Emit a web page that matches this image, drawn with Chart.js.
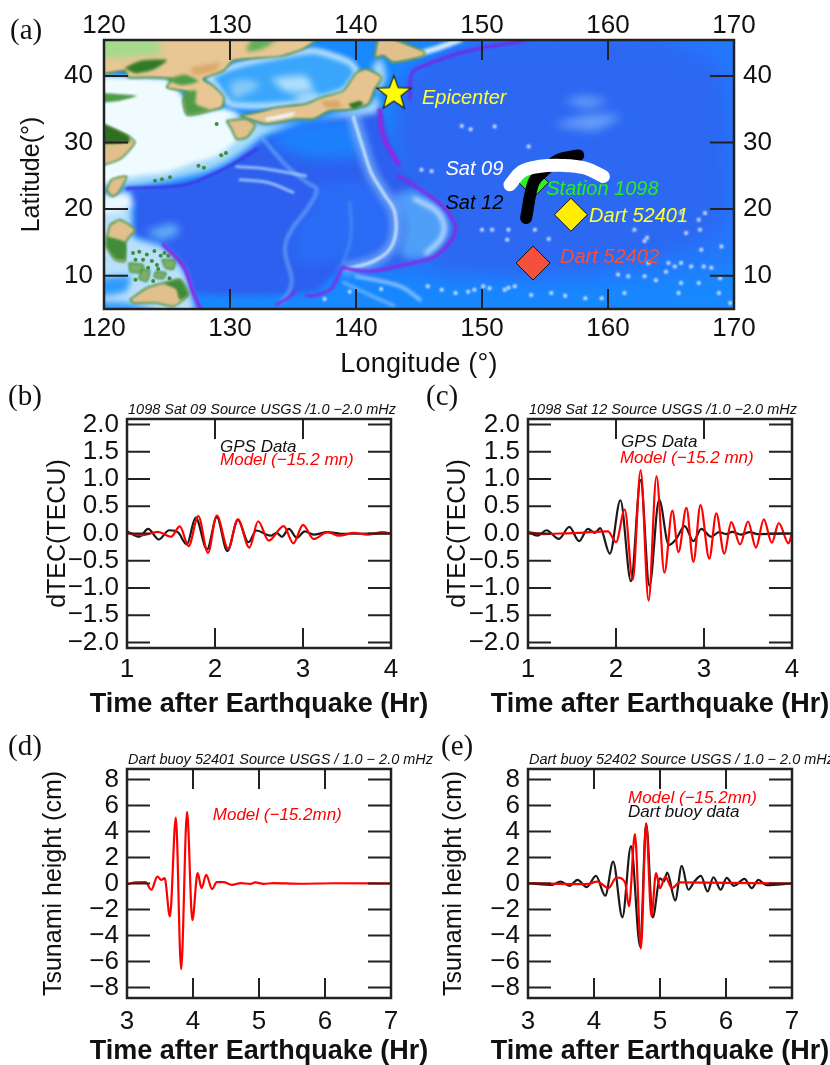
<!DOCTYPE html>
<html>
<head>
<meta charset="utf-8">
<title>dTEC and tsunami height</title>
<script src="https://cdn.jsdelivr.net/npm/chart.js@4/dist/chart.umd.min.js"></script>
<style>
    html, body { margin: 0; padding: 0; background: #fff; }
    #page { position: relative; width: 830px; height: 1065px; overflow: hidden; }
    canvas { position: absolute; filter: blur(0.45px); }
    .tag { position: absolute; font: 29px "Liberation Serif", serif; color: #111; line-height: 1; }
</style>
</head>
<body>
<div id="page">
    <canvas id="mapChart" width="830" height="390" style="left:0;top:0"></canvas>
    <canvas id="sat09Chart" width="400" height="320" style="left:30px;top:400px"></canvas>
    <canvas id="sat12Chart" width="400" height="320" style="left:430px;top:400px"></canvas>
    <canvas id="dart52401Chart" width="410" height="315" style="left:30px;top:750px"></canvas>
    <canvas id="dart52402Chart" width="400" height="315" style="left:430px;top:750px"></canvas>
    <div class="tag" style="left:10px;top:15px">(a)</div>
    <div class="tag" style="left:8px;top:381px">(b)</div>
    <div class="tag" style="left:426px;top:381px">(c)</div>
    <div class="tag" style="left:8px;top:731px">(d)</div>
    <div class="tag" style="left:441px;top:731px">(e)</div>
</div>
<script>
// ticks
const lonTicks = [120, 130, 140, 150, 160, 170];
const latTicks = [10, 20, 30, 40];
const hourTicksTec = [1, 2, 3, 4];
const hourTicksDart = [3, 4, 5, 6, 7];
const dtecTicks = [-2, -1.5, -1, -0.5, 0, 0.5, 1, 1.5, 2];
const heightTicks = [-8, -6, -4, -2, 0, 2, 4, 6, 8];

// panel (b)
const sat09GpsTimes = [1.0, 1.14, 1.24, 1.36, 1.48, 1.58, 1.68, 1.78, 1.91, 2.02, 2.14, 2.26, 2.38, 2.47, 2.63, 2.7, 2.76, 2.84, 2.93, 3.02, 3.12, 3.28, 3.43, 4.0];
const sat09GpsValues = [0.04, -0.06, 0.085, -0.11, 0.06, 0.02, -0.2, 0.29, -0.29, 0.3, -0.32, 0.25, -0.16, 0.055, -0.04, 0.01, -0.06, 0.085, -0.08, 0.04, -0.02, 0.025, -0.005, 0];
const sat09ModelTimes = [1.0, 1.18, 1.35, 1.5, 1.6, 1.7, 1.81, 1.92, 2.02, 2.15, 2.26, 2.39, 2.49, 2.61, 2.78, 2.89, 3.0, 3.12, 3.28, 3.41, 3.58, 3.73, 3.91, 4.0];
const sat09ModelValues = [0.01, -0.03, 0.03, -0.06, 0.13, -0.23, 0.32, -0.355, 0.33, -0.28, 0.26, -0.26, 0.225, -0.13, 0.135, -0.18, 0.16, -0.1, 0.025, -0.04, 0.01, -0.02, 0.025, -0.005];

// panel (c)
const sat12GpsTimes = [1.0, 1.11, 1.21, 1.35, 1.47, 1.58, 1.68, 1.76, 1.82, 1.93, 2.05, 2.17, 2.28, 2.38, 2.49, 2.6, 2.68, 2.78, 2.88, 2.97, 3.08, 3.17, 3.25, 3.32, 3.42, 3.52, 3.61, 4.0];
const sat12GpsValues = [0.025, -0.04, 0.06, -0.1, 0.12, -0.14, 0.085, 0.01, 0.1, -0.37, 0.61, -0.875, 0.98, -0.96, 0.62, -0.21, -0.11, 0.135, -0.14, 0.085, -0.06, 0.025, -0.01, 0.03, -0.02, 0.025, -0.01, 0];
const sat12ModelTimes = [1.0, 1.17, 1.36, 1.57, 1.91, 2.0, 2.1, 2.19, 2.28, 2.37, 2.46, 2.55, 2.64, 2.71, 2.8, 2.88, 2.96, 3.06, 3.14, 3.23, 3.31, 3.41, 3.5, 3.59, 3.68, 3.77, 3.85, 3.96, 4.0];
const sat12ModelValues = [0.025, -0.01, 0, 0.01, 0.04, -0.16, 0.44, -0.85, 1.16, -1.23, 1.05, -0.72, 0.42, -0.34, 0.47, -0.52, 0.52, -0.46, 0.37, -0.37, 0.21, -0.2, 0.22, -0.26, 0.26, -0.17, 0.19, -0.18, 0.01];

// panel (d)
const dart52401ModelTimes = [3.01, 3.13, 3.28, 3.37, 3.46, 3.52, 3.57, 3.65, 3.74, 3.82, 3.91, 3.99, 4.07, 4.13, 4.2, 4.29, 4.36, 4.46, 4.59, 4.72, 4.87, 4.94, 5.07, 5.22, 5.62, 6.13, 7.0];
const dart52401ModelValues = [-0.05, 0.08, 0.1, -0.48, 0.53, 0.28, 0.41, -2.52, 5.06, -6.59, 5.5, -2.82, 0.79, -0.36, 0.66, -0.43, 0.1, 0.1, -0.1, 0.03, -0.03, 0.08, -0.03, 0.03, -0.02, 0.02, 0];

// panel (e)
const dart52402BuoyTimes = [3.0, 3.37, 3.49, 3.63, 3.75, 3.89, 4.03, 4.17, 4.29, 4.43, 4.56, 4.7, 4.79, 4.89, 5.0, 5.06, 5.11, 5.23, 5.33, 5.43, 5.52, 5.62, 5.72, 5.81, 5.92, 6.01, 6.12, 6.28, 6.39, 6.49, 6.61, 7.0];
const dart52402BuoyValues = [0.03, -0.1, 0.15, -0.18, 0.28, -0.28, 0.58, -0.94, 1.68, -2.6, 2.88, -4.86, 4.6, -2.6, 0.4, 0.15, 0.84, -1.3, 1.35, -0.48, 0.15, 0.58, -0.61, 0.48, -0.48, 0.43, -0.18, 0.36, -0.36, 0.28, -0.13, 0];
const dart52402ModelTimes = [3.0, 3.89, 4.05, 4.22, 4.34, 4.47, 4.53, 4.62, 4.71, 4.79, 4.87, 4.94, 5.0, 5.08, 5.18, 5.3, 7.0];
const dart52402ModelValues = [0.03, -0.05, 0.15, -0.36, 0.46, 0.1, -1.75, 3.79, -5.0, 4.6, -2.52, 0.79, -0.36, 0.53, -0.36, 0.08, 0];

// map, all [lon, lat]
const epicenter = [[143.0, 37.5]];
const station1098 = [[154.1, 24.0]];
const dart52401 = [[157.06, 19.16]];
const dart52402 = [[154.05, 11.9]];
const sat09Track = [[152.22, 23.66], [153.15, 25.66], [154.47, 26.4], [156.32, 26.57], [158.17, 26.17], [159.63, 24.9]];
const sat12Track = [[153.5, 18.66], [154.07, 23.9], [154.73, 25.4], [156.06, 27.4], [157.64, 28.07]];

// sea floor
const pacificOuter = [[150, 47], [171, 47], [171, 13], [158, 9], [146, 9.5], [140, 11], [143, 30], [144, 40]];
const pacificDeep = [[153.4, 46], [163, 46], [169, 41], [169, 17], [158, 11], [146, 11.2], [147, 17], [145, 22], [143.5, 26], [143, 30], [144, 40], [148, 44]];
const philippineSea = [[121.8, 23.17], [124.18, 23.17], [126.82, 23.92], [129.47, 25.92], [132.64, 30.5], [138.2, 33.78], [141.77, 34.78], [143.3, 26.77], [145.08, 23.5], [147.5, 19.4], [147.5, 14.9], [145.08, 12.16], [139, 11.2], [136.61, 7.6], [127.09, 7.4], [126.3, 11.4], [124.7, 14.66], [122.33, 15.9], [122.46, 19.9]];
const shikokuBasin = [[133.5, 32.2], [138.2, 33.5], [140, 33], [140.4, 28], [136.5, 27.5], [133.5, 29.5]];
const parecePatch = [[137, 24], [141, 24], [142.6, 19], [142.4, 15], [140, 12.5], [135.2, 12], [135.2, 17], [136.7, 21]];
const marianaBasin = [[144.7, 23], [146.8, 20.4], [147.5, 17.4], [147.2, 15.4], [146, 13], [144.7, 12.4], [143.5, 13], [143.8, 18], [143, 22]];
const philippinePatch = [[123.3, 16.6], [125.5, 17.8], [126, 16.5], [124.5, 15.4]];
const eastChinaEdge = [[130.79, 34.03], [132.91, 32.78], [136.61, 33.53], [139.39, 34.93], [141, 35.8], [142, 38], [142.4, 40], [142, 42.6], [141.3, 41.5], [141.77, 34.78], [138.2, 33.78], [135.55, 33.03], [132.64, 31.02], [131.32, 29.02], [129.73, 27.02], [127.88, 25.52], [124.97, 24.27], [122.33, 23.52], [119, 23.52], [119, 40]];
const eastChinaShelf = [[119, 39.78], [125.24, 39.53], [126.29, 36.53], [126.61, 34.03], [128.41, 34.63], [129.52, 35.03], [130.79, 34.03], [129.73, 33.28], [130.13, 32.03], [130.53, 30.42], [128.94, 28.02], [126.82, 26.77], [124.97, 25.52], [122.59, 25.02], [119, 24.02]];
const archipelagoShelf = [[119, 20.9], [122.06, 19.9], [122.33, 15.9], [124.57, 14.4], [126.29, 10.9], [126.95, 6.9], [127.09, 4], [119, 4]];
const suluSea = [[119, 9.5], [122.06, 9.9], [121.7, 7.6], [119, 7]];
const celebesSea = [[119, 6.2], [122, 5.9], [124.5, 4.5], [119, 4.5]];
const luzonStrait = [[119, 22], [122, 22.5], [122.2, 20], [119, 19.4]];
const japanSea = [[128.15, 39.78], [130, 41.29], [132.9, 42.64], [136.6, 43.79], [139.52, 42.04], [140.05, 40.53], [138.99, 37.78], [135.82, 36.03], [132.91, 35.53], [130, 35.78], [128.8, 38.78]];
const yamatoBank = [[133.2, 39.6], [136, 40], [136.6, 37.8], [134.5, 37.6]];
const koreaBank = [[130, 39], [131.3, 39.5], [132.4, 38.5], [130.3, 36.6]];
const okiBank = [[135, 37], [136.6, 37.5], [137.2, 37], [135.6, 36.3]];
const shatskyA = [[156.4, 36.2], [158, 37], [160, 36.2], [158.4, 35.2]];
const shatskyB = [[155.6, 32.6], [158.4, 34.2], [161, 34], [159, 31.8]];
const kurilShelf = [[144.7, 43.2], [146.5, 44.2], [148.2, 45.4]];
const carolineBandA = [[140.05, 9.9], [143.5, 8.4], [145.08, 6.4]];
const carolineBandB = [[139, 9], [141, 7.2], [143, 5.5]];

const kurilJapanTrench = [[153.4, 45.3], [148.8, 43.7], [145.08, 41.3], [144.42, 40.3], [144.28, 36.5]];
const izuTrench = [[141.9, 34.78], [142.17, 31], [143.35, 26.77]];
const marianaTrench = [[143.36, 25], [145.08, 23], [146.9, 20.4], [147.9, 17.4], [147.6, 15.4], [146.3, 12.9], [145.08, 12.16], [142.7, 11.16], [140.84, 10.66], [139, 11.2]];
const yapTrench = [[138.86, 11.16], [138.46, 9.4], [137.93, 7.9], [136.61, 7], [136.08, 7]];
const palauTrench = [[135.16, 7.65], [134.76, 6.9], [133.7, 5.65]];
const philippineTrench = [[124.7, 14.66], [126.3, 11.4], [127.09, 7.4], [127.62, 5.15]];
const ryukyuTrench = [[121.8, 23.1], [126.29, 23.6], [128.41, 25.02], [130.26, 26.77], [132.11, 29]];

const palauRidge = [[132.64, 30.5], [134.5, 26.5], [136.1, 24], [136.88, 22.92], [136.08, 19.91], [134.89, 16.91], [134.36, 13.91], [134.89, 9.4], [134.63, 7.4], [133.97, 5.9]];
const izuRidge = [[139.79, 33.8], [140.58, 29], [141.2, 25.5], [142.17, 22.42], [143.09, 19.41], [142.96, 14.91], [141.64, 12.41], [139.26, 11]];
const westMarianaRidge = [[139.5, 21], [139.6, 16], [139, 12]];
const marianaRing = [[144.7, 21.5], [146.4, 19.7], [147, 17.4], [146.7, 15.4], [145.6, 13.4]];
const daitoRidge = [[130.5, 26.4], [133, 26], [136, 25]];
const okiDaitoRidge = [[130.8, 24.4], [133, 24], [135, 22.5]];

// land
const asiaLand = [[119, 46], [137.14, 46], [135.8, 44.04], [133.97, 42.94], [131.85, 42.64], [130.26, 42.29], [129.47, 40.78], [127.88, 39.53], [128.67, 38.53], [129.52, 36.78], [129.34, 35.28], [128.41, 34.78], [126.61, 34.18], [126.29, 36.28], [126.69, 37.53], [124.97, 38.28], [125.37, 39.53], [123.65, 39.78], [121.93, 39.78], [121.66, 40.79], [119, 40.28]];
const shandongLand = [[119, 37.53], [122.59, 37.03], [121.27, 36.28], [119, 36.03]];
const chinaLand = [[119, 33.53], [121.93, 31], [122.46, 30], [121.27, 27.5], [119, 26.5]];
const taiwanLand = [[120.21, 22.92], [120.61, 24.42], [121.8, 24.92], [121.13, 22.42], [120.61, 21.92]];
const luzonLand = [[120.47, 17.66], [121.27, 18.41], [122.46, 16.91], [121.93, 15.66], [121.66, 14.66], [121.66, 12.16], [120.87, 12.4], [120.21, 14.41], [120.21, 15.66]];
const samarLand = [[124.6, 12.4], [125.6, 12.3], [125.5, 11], [124.9, 11.2]];
const panayLand = [[122, 11.9], [123.1, 11.6], [123, 10.6], [122.1, 10.6]];
const negrosLand = [[123, 10.9], [123.6, 10.8], [123.4, 9.2], [122.8, 9.6]];
const boholLand = [[124.1, 10.6], [124.9, 10.4], [124.7, 9.6], [124, 9.8]];
const mindanaoLand = [[122.06, 6.4], [123.38, 8.15], [124.71, 8.9], [126.03, 9.4], [126.69, 7.15], [125.5, 5.4], [124.18, 5.9], [122.33, 5.9]];
const honshuLand = [[130.79, 34.03], [132.11, 34.53], [133.7, 35.28], [135.95, 35.78], [137.27, 36.78], [138.99, 37.78], [140.05, 40.53], [140.84, 41.03], [142.03, 39.78], [141.5, 38.03], [140.98, 35.78], [139.39, 34.93], [137.93, 34.78], [136.61, 33.53], [135.29, 33.53], [132.91, 32.78], [131.06, 33.78]];
const inlandSea = [[132.8, 33.7], [135.2, 34.6], [134.9, 34], [132.9, 33.3]];
const kyushuLand = [[129.73, 33.28], [131.32, 33.53], [131.98, 32.53], [131.32, 30.78], [130.53, 30.52], [130.13, 32.03]];
const hokkaidoLand = [[141.77, 46], [142.3, 46], [145.4, 43.7], [145.4, 43], [142.96, 42.04], [142.17, 43.04], [141.5, 42.79]];
const manchuriaGreen = [[119, 46], [124, 46], [124.5, 43.5], [119, 42.8]];
const northKoreaGreen = [[131.85, 46], [134, 46], [132.5, 44], [131.3, 43.8]];
const changbaiGreen = [[121.6, 41.2], [122.9, 42.3], [125, 42.4], [124, 41], [122.5, 40.4]];
const yaluGreen = [[124.9, 39.4], [126.4, 40.2], [127.5, 39.2], [126.2, 38.6]];
const koreaGreen = [[126.3, 37.6], [127.3, 37.8], [127.3, 35.8], [128.4, 34.9], [126.61, 34.2], [126.29, 36.28]];
const jiangsuGreen = [[119, 33.53], [121.93, 31], [122, 30], [119, 30]];
const japanAlpsGreen = [[139.39, 35.78], [140.31, 36.28], [140.58, 35.78], [139.79, 35.03]];
const taihakuOrange = [[137.2, 36.2], [138.6, 36.3], [138.8, 35.3], [137.6, 35.3]];
const shanxiOrange = [[126.8, 41.2], [129.2, 42], [128.9, 40.8], [127.2, 40.2]];
const luzonGreen = [[120.21, 15.9], [121.7, 15], [121.66, 12.4], [120.9, 12.6], [120.21, 14.4]];
const mindanaoGreen = [[124.7, 8.8], [126.03, 9.4], [126.69, 7.15], [126, 6.4], [125.7, 8]];

const ryukyuIslands = [[128.94, 32.78], [129.68, 28.42], [129.3, 28.1], [127.93, 26.22], [127.5, 26.5], [125.24, 24.77], [124.05, 24.27], [124.6, 24.5]];
const archipelagoSpeckle = [[122.3, 13.4], [122.8, 13.6], [123.4, 13.2], [124, 13.7], [124.5, 13], [123.1, 12.4], [123.8, 12.2], [124.2, 11.6], [123.5, 11.2], [124.3, 11], [122.5, 12.4], [125.2, 9.6], [123.9, 9.2], [122.5, 9.4], [124.8, 13.4], [125.1, 13]];
const seamounts = [[148.4, 32.5], [149.1, 32], [151, 32.4], [153.7, 29.4], [145.2, 25.9], [146, 25.7], [150, 16.9], [150.8, 16.9], [152.1, 16.9], [154.2, 16.9], [152, 15.4], [155.3, 15.5], [163.1, 15.7], [162.9, 15.2], [162.1, 16.9], [165.8, 19.4], [167.2, 18.4], [167.3, 16.9], [166.2, 16.4], [167.7, 19.4], [169, 14.4], [167.4, 13.9], [165.8, 11.9], [166.6, 11.4], [167.6, 11.4], [168.2, 11.2], [165.3, 11.4], [164.8, 11.9], [163.2, 11.9], [160.8, 10.2], [161.6, 9.9], [162.9, 9.9], [167.2, 8.9], [165.8, 8.9], [168.8, 7.4], [169.7, 5.9], [165.6, 7.4], [161.3, 7.4], [159.5, 6.6], [158.2, 6.6], [155.5, 7.4], [153.9, 7.1], [152.6, 8.4], [151.8, 7.9], [150.1, 8.4], [148.9, 7.6], [147.9, 7.4], [146.8, 7.9], [145.7, 8.4], [142, 8], [139.5, 7.6], [137.5, 6.5], [149.4, 7.9], [150.6, 8.1], [152.1, 8.2], [156.6, 7], [163.8, 9.3], [164.6, 10.6], [168.9, 9.6]];

const frameColor = '#222';
const sans = '"Liberation Sans", Arial, sans-serif';

function points(pairs) {
    return pairs.map(p => ({ x: p[0], y: p[1] }));
}
function series(times, values) {
    return times.map((t, i) => ({ x: t, y: values[i] }));
}
function area(pairs, color, edge, edgeWidth) {
    return {
        data: points(pairs.concat([pairs[0]])), showLine: true, fill: 'shape', backgroundColor: color,
        borderColor: edge || color, borderWidth: edge ? (edgeWidth || 1.5) : 0, pointRadius: 0, tension: 0.2
    };
}
function stroke(pairs, color, width) {
    return {
        data: points(pairs), showLine: true, borderColor: color, borderWidth: width,
        borderCapStyle: 'round', borderJoinStyle: 'round', pointRadius: 0, tension: 0.4
    };
}
function dots(pairs, color, radius) {
    return { data: points(pairs), pointRadius: radius, pointBorderWidth: 0, pointBackgroundColor: color, backgroundColor: color };
}
function marker(pairs, style, radius, color) {
    return {
        data: points(pairs), pointStyle: style, pointRadius: radius, backgroundColor: color,
        pointBackgroundColor: color, pointBorderColor: '#111', pointBorderWidth: 1
    };
}
function wave(times, values, color) {
    return {
        data: series(times, values), showLine: true, borderColor: color, borderWidth: 2.2,
        pointRadius: 0, cubicInterpolationMode: 'monotone'
    };
}
function soft(dataset, px) {
    dataset.softness = px;
    return dataset;
}

// five pointed star for the epicenter
function starImage() {
    const c = document.createElement('canvas');
    c.width = 40; c.height = 40;
    const g = c.getContext('2d');
    g.beginPath();
    for (let i = 0; i < 10; i++) {
        const r = i % 2 ? 7.5 : 18;
        const a = -Math.PI / 2 + i * Math.PI / 5;
        g[i ? 'lineTo' : 'moveTo'](20 + r * Math.cos(a), 21 + r * Math.sin(a));
    }
    g.closePath();
    g.fillStyle = '#ffff00';
    g.fill();
    g.strokeStyle = '#222';
    g.lineWidth = 1.2;
    g.stroke();
    return c;
}

// inward ticks on all four sides, plus the frame
const frame = {
    id: 'frame',
    afterDatasetsDraw(chart, args, opts) {
        const { ctx, chartArea: a } = chart;
        const sx = chart.scales.x, sy = chart.scales.y;
        ctx.save();
        ctx.strokeStyle = frameColor;
        ctx.lineWidth = 2;
        ctx.beginPath();
        sx.ticks.forEach(t => {
            const px = sx.getPixelForValue(t.value);
            ctx.moveTo(px, a.top); ctx.lineTo(px, a.top + opts.xLength);
            ctx.moveTo(px, a.bottom); ctx.lineTo(px, a.bottom - opts.xLength);
        });
        sy.ticks.forEach(t => {
            const py = sy.getPixelForValue(t.value);
            ctx.moveTo(a.left, py); ctx.lineTo(a.left + opts.yLength, py);
            ctx.moveTo(a.right, py); ctx.lineTo(a.right - opts.yLength, py);
        });
        ctx.stroke();
        ctx.lineWidth = 2.5;
        ctx.strokeRect(a.left, a.top, a.right - a.left, a.bottom - a.top);
        ctx.restore();
    }
};

// italic notes placed in data coordinates, small title above the frame, x title below it
const notes = {
    id: 'notes',
    afterDraw(chart, args, opts) {
        const { ctx, chartArea: a, scales } = chart;
        ctx.save();
        ctx.textBaseline = 'middle';
        ctx.textAlign = 'left';
        if (opts.title) {
            ctx.font = 'italic 14.5px ' + sans;
            ctx.fillStyle = '#111';
            ctx.fillText(opts.title, a.left + 1, a.top - 9);
        }
        ctx.font = 'italic ' + opts.size + 'px ' + sans;
        (opts.items || []).forEach(n => {
            ctx.fillStyle = n.color;
            ctx.fillText(n.text, scales.x.getPixelForValue(n.x), scales.y.getPixelForValue(n.y));
        });
        if (opts.xTitle) {
            ctx.font = opts.xTitleFont + ' ' + sans;
            ctx.fillStyle = '#111';
            ctx.textAlign = 'center';
            ctx.letterSpacing = opts.xTitleSpacing;
            ctx.fillText(opts.xTitle, (a.left + a.right) / 2, a.bottom + opts.xTitleOffset);
        }
        ctx.restore();
    }
};

// the reference is a soft raster: basins fade into each other, land and marks stay tighter.
// datasets run with clip:false so the filter survives until Filler paints them, the plot is clipped here instead
const softMap = {
    id: 'softMap',
    beforeDatasetsDraw(chart) {
        const { ctx, chartArea: a } = chart;
        const sets = chart.data.datasets;
        ctx.save();
        ctx.beginPath();
        ctx.rect(a.left, a.top, a.right - a.left, a.bottom - a.top);
        ctx.clip();
        ctx.filter = 'blur(' + sets[sets.length - 1].softness + 'px)';
    },
    afterDatasetDraw(chart, args) {
        const next = chart.data.datasets[args.index - 1];
        chart.ctx.filter = next ? 'blur(' + next.softness + 'px)' : 'none';
    },
    afterDatasetsDraw(chart) {
        chart.ctx.restore();
    }
};

const oceanBase = {
    id: 'oceanBase',
    beforeDatasetsDraw(chart) {
        const a = chart.chartArea;
        chart.ctx.fillStyle = '#1888ff';
        chart.ctx.fillRect(a.left, a.top, a.right - a.left, a.bottom - a.top);
    }
};

function fixedTicks(values) {
    return s => { s.ticks = values.map(v => ({ value: v })); };
}
function signed(digits) {
    return v => (digits ? v.toFixed(digits) : String(v)).replace('-', '\u2212');
}
function bottomScale(min, max, values, height, pad) {
    return {
        type: 'linear', min, max, position: 'bottom',
        grid: { display: false, drawTicks: false }, border: { display: false },
        afterBuildTicks: fixedTicks(values),
        afterFit: s => { s.height = height; s.paddingLeft = 0; s.paddingRight = 0; },
        ticks: { color: '#111', padding: pad, font: { size: 26, family: sans }, maxRotation: 0, autoSkip: false }
    };
}
function leftScale(min, max, values, digits, title, width, titlePad, tickPad) {
    return {
        type: 'linear', min, max, position: 'left',
        grid: { display: false, drawTicks: false }, border: { display: false },
        afterBuildTicks: fixedTicks(values),
        afterFit: s => { s.width = width; s.paddingTop = 0; s.paddingBottom = 0; },
        ticks: { color: '#111', padding: tickPad, font: { size: 26, family: sans }, autoSkip: false, callback: signed(digits) },
        title: { display: !!title, text: title, color: '#111', padding: { top: titlePad, bottom: 0 }, font: { size: 25, family: sans } }
    };
}

function panel(id, datasets, xScale, yScale, title, items, xOffset, rightPad) {
    new Chart(document.getElementById(id), {
        type: 'scatter',
        data: { datasets },
        plugins: [frame, notes],
        options: {
            responsive: false, animation: false, events: [],
            layout: { padding: { top: 19, right: rightPad, bottom: 0, left: 0 } },
            scales: { x: xScale, y: yScale },
            plugins: {
                legend: { display: false }, tooltip: { enabled: false },
                frame: { xLength: 20, yLength: 23 },
                notes: {
                    title, items, size: 17,
                    xTitle: 'Time after Earthquake (Hr)', xTitleFont: 'bold 27px', xTitleSpacing: '0px', xTitleOffset: xOffset
                }
            }
        }
    });
}

// map panel, layers listed bottom to top, Chart.js draws the first dataset last
const mapLayers = [
    soft(area(pacificOuter, '#2378fb'), 9),
    soft(area(pacificDeep, '#2c68f2'), 9),
    soft(area(philippineSea, '#2e5fef'), 3),
    soft(area(shikokuBasin, '#1d80fb'), 7),
    soft(area(parecePatch, '#2a6cf5'), 6),
    soft(area(marianaBasin, '#4f9ff8'), 4),
    soft(area(philippinePatch, '#63b0f8'), 4),
    soft(area(eastChinaEdge, '#a6dafa'), 3),
    soft(area(archipelagoShelf, '#b8e0fb'), 3),
    soft(area(suluSea, '#2f9bff'), 3),
    soft(area(celebesSea, '#2f9bff'), 3),
    soft(area(luzonStrait, '#eaf7ff'), 3),
    soft(area(japanSea, '#3aa6fb', '#d8f1fd', 5), 2.5),
    soft(area(yamatoBank, '#b0dff9'), 3.5),
    soft(area(koreaBank, '#86c9f8'), 3.5),
    soft(area(okiBank, '#c0e5fa'), 3),
    soft(area(eastChinaShelf, '#f0fbff'), 2.5),
    soft(area(shatskyA, 'rgba(150,200,255,0.55)'), 5),
    soft(area(shatskyB, 'rgba(150,200,255,0.55)'), 5),
    soft(stroke(kurilShelf, '#cdeafc', 6), 1.5),
    soft(stroke(carolineBandA, 'rgba(190,225,255,0.6)', 4), 1.5),
    soft(stroke(carolineBandB, 'rgba(190,225,255,0.5)', 3), 1.5),
    soft(stroke(palauRidge, 'rgba(120,185,250,0.55)', 4), 1.5),
    soft(stroke(westMarianaRidge, 'rgba(120,185,250,0.35)', 3), 1.5),
    soft(stroke(izuRidge, 'rgba(130,190,250,0.6)', 13), 3),
    soft(stroke(izuRidge, 'rgba(225,242,255,0.8)', 3), 1.2),
    soft(stroke(marianaRing, 'rgba(225,242,255,0.7)', 5), 2),
    soft(stroke(daitoRidge, 'rgba(170,210,250,0.8)', 3), 1.2),
    soft(stroke(okiDaitoRidge, 'rgba(170,210,250,0.8)', 3), 1.2),
    soft(stroke(ryukyuTrench, '#3f38e6', 3), 1.2),
    soft(stroke(kurilJapanTrench, '#6a30e8', 3.5), 1),
    soft(stroke(izuTrench, '#8a2be2', 5), 1),
    soft(stroke(marianaTrench, '#7f2fe6', 3.5), 1),
    soft(stroke(yapTrench, '#7f2fe6', 3), 1),
    soft(stroke(palauTrench, '#7f2fe6', 3), 1),
    soft(stroke(philippineTrench, '#8a2be2', 3.5), 1),
    soft(dots(seamounts, 'rgba(235,245,255,0.9)', 2), 0.8),
    soft(area(asiaLand, '#e9c795', '#3f8d38'), 0.8),
    soft(area(shandongLand, '#4f9c48'), 0.8),
    soft(area(chinaLand, '#e2c08d', '#3f8d38'), 0.8),
    soft(area(taiwanLand, '#e2c08d', '#3f8d38'), 0.8),
    soft(area(luzonLand, '#e2c08d', '#3f8d38'), 0.8),
    soft(area(samarLand, '#7fb068', '#3f8d38'), 0.8),
    soft(area(panayLand, '#7fb068', '#3f8d38'), 0.8),
    soft(area(negrosLand, '#7fb068', '#3f8d38'), 0.8),
    soft(area(boholLand, '#7fb068', '#3f8d38'), 0.8),
    soft(area(mindanaoLand, '#e2c08d', '#3f8d38'), 0.8),
    soft(area(honshuLand, '#e6c491', '#3f8d38'), 0.8),
    soft(area(inlandSea, '#eaf7ff'), 0.8),
    soft(area(kyushuLand, '#e2c08d', '#3f8d38'), 0.8),
    soft(area(hokkaidoLand, '#e2c08d', '#3f8d38'), 0.8),
    soft(area(manchuriaGreen, '#a5d98c'), 3),
    soft(area(northKoreaGreen, '#5fae58'), 2),
    soft(area(changbaiGreen, '#2f7a26'), 1.5),
    soft(area(yaluGreen, '#4f9c48'), 1.5),
    soft(area(koreaGreen, '#4f9c48'), 1.5),
    soft(area(jiangsuGreen, '#2e6f22'), 0.8),
    soft(area(japanAlpsGreen, '#2f7a26'), 1),
    soft(area(taihakuOrange, '#d9a868'), 1.5),
    soft(area(shanxiOrange, '#d9a868'), 2),
    soft(area(luzonGreen, '#3f8d38'), 1),
    soft(area(mindanaoGreen, '#3f8d38'), 1),
    soft(dots(archipelagoSpeckle, '#3f8d38', 2), 0.5),
    soft(dots(ryukyuIslands, '#3f8d38', 2), 0.5),
    soft(marker(station1098, 'rectRot', 15, '#2cf02c'), 0.3),
    soft(marker(dart52401, 'rectRot', 16.5, '#ffee00'), 0.3),
    soft(marker(dart52402, 'rectRot', 17, '#f5503c'), 0.3),
    soft(stroke(sat12Track, '#000', 12), 0.3),
    soft(stroke(sat09Track, '#fff', 13), 0.3),
    soft(marker(epicenter, starImage(), 18, '#ffff00'), 0.3)
].reverse();
mapLayers.forEach(d => { d.clip = false; });

const mapNotes = [
    { text: 'Epicenter', x: 145.24, y: 36.6, color: '#ffff33' },
    { text: 'Sat 09', x: 147.1, y: 25.9, color: '#ffffff' },
    { text: 'Sat 12', x: 147.1, y: 20.8, color: '#000000' },
    { text: 'Station 1098', x: 155.1, y: 22.9, color: '#22ee22' },
    { text: 'Dart 52401', x: 158.5, y: 18.9, color: '#ffff33' },
    { text: 'Dart 52402', x: 156.2, y: 12.7, color: '#f5503c' }
];

const mapXTop = Object.assign(bottomScale(120, 170, lonTicks, 40, -1), { position: 'top' });
const mapYRight = Object.assign(leftScale(5, 45.4, latTicks, 0, '', 96, 0, 9), { position: 'right' });

new Chart(document.getElementById('mapChart'), {
    type: 'scatter',
    data: { datasets: mapLayers },
    plugins: [oceanBase, softMap, frame, notes],
    options: {
        responsive: false, animation: false, events: [],
        scales: {
            x: bottomScale(120, 170, lonTicks, 81, 4),
            x2: mapXTop,
            y: leftScale(5, 45.4, latTicks, 0, 'Latitude(\u00b0)', 104, 17, 11),
            y2: mapYRight
        },
        plugins: {
            legend: { display: false }, tooltip: { enabled: false },
            frame: { xLength: 20, yLength: 24 },
            notes: {
                items: mapNotes, size: 20,
                xTitle: 'Longitude (\u00b0)', xTitleFont: '27px', xTitleSpacing: '0.2px', xTitleOffset: 56
            }
        }
    }
});

panel('sat09Chart',
    [wave(sat09ModelTimes, sat09ModelValues, '#ff0000'), wave(sat09GpsTimes, sat09GpsValues, '#1a1a1a')],
    bottomScale(1, 4, hourTicksTec, 72, 6),
    leftScale(-2.1, 2.1, dtecTicks, 1, 'dTEC(TECU)', 97, 13, 8),
    '1098 Sat 09 Source USGS /1.0 \u22122.0 mHz',
    [{ text: 'GPS Data', x: 2.057, y: 1.575, color: '#111' }, { text: 'Model (\u221215.2 mn)', x: 2.057, y: 1.337, color: '#ff0000' }],
    57, 39);

panel('sat12Chart',
    [wave(sat12ModelTimes, sat12ModelValues, '#ff0000'), wave(sat12GpsTimes, sat12GpsValues, '#1a1a1a')],
    bottomScale(1, 4, hourTicksTec, 72, 6),
    leftScale(-2.1, 2.1, dtecTicks, 1, 'dTEC(TECU)', 98, 13, 8),
    '1098 Sat 12 Source USGS /1.0 \u22122.0 mHz',
    [{ text: 'GPS Data', x: 2.057, y: 1.667, color: '#111' }, { text: 'Model (\u221215.2 mn)', x: 2.045, y: 1.374, color: '#ff0000' }],
    57, 38);

panel('dart52401Chart',
    [wave(dart52401ModelTimes, dart52401ModelValues, '#ff0000')],
    bottomScale(3, 7, hourTicksDart, 67, 8),
    leftScale(-8.8, 8.8, heightTicks, 0, 'Tsunami height (cm)', 97, 9, 8),
    'Dart buoy 52401 Source USGS / 1.0 \u2212 2.0 mHz',
    [{ text: 'Model (\u221215.2mn)', x: 4.3, y: 5.27, color: '#ff0000' }],
    54, 49);

panel('dart52402Chart',
    [wave(dart52402ModelTimes, dart52402ModelValues, '#ff0000'), wave(dart52402BuoyTimes, dart52402BuoyValues, '#1a1a1a')],
    bottomScale(3, 7, hourTicksDart, 67, 8),
    leftScale(-8.8, 8.8, heightTicks, 0, 'Tsunami height (cm)', 98, 9, 8),
    'Dart buoy 52402 Source USGS / 1.0 \u2212 2.0 mHz',
    [{ text: 'Model (\u221215.2mn)', x: 4.515, y: 6.56, color: '#ff0000' }, { text: 'Dart buoy data', x: 4.515, y: 5.5, color: '#111' }],
    54, 38);
</script>
</body>
</html>
